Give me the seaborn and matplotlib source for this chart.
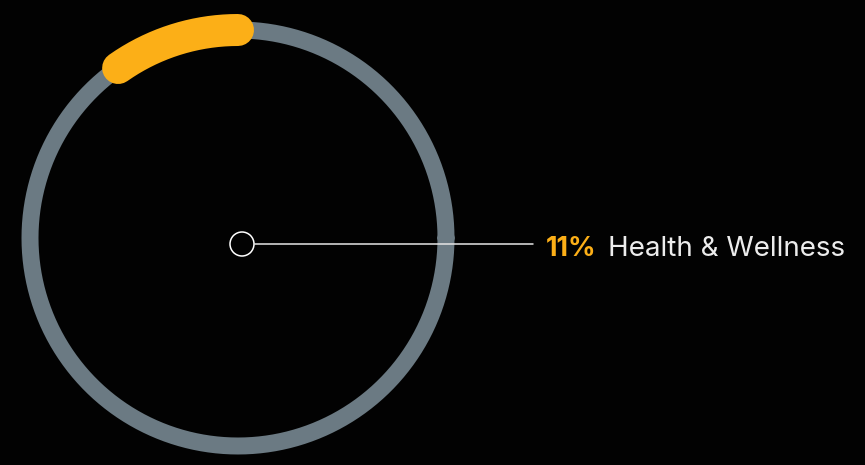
import numpy as np
import pandas as pd
import seaborn as sns
import matplotlib.pyplot as plt
from matplotlib.patches import Circle

# Data
categories = ["Health & Wellness"]
shares = [11]            # percent of the whole
share_labels = ["11%"]

BG = "#020202"
TRACK = "#6b7a83"
ACCENT = "#fcaf17"
TEXT = "#ececec"

sns.set_theme(style="dark", rc={"axes.facecolor": BG, "figure.facecolor": BG})
plt.rcParams["font.family"] = ["Inter", "DejaVu Sans"]

fig = plt.figure(figsize=(8.65, 4.65), dpi=100, facecolor=BG)
ax = fig.add_axes([0, 0, 1, 1])
ax.set_facecolor(BG)
ax.set_xlim(0, 865)
ax.set_ylim(465, 0)
ax.set_aspect("equal")
ax.axis("off")

# Ring geometry (pixel-like data units)
cx, cy, R = 238, 238, 208
track_w_px, arc_w_px = 17, 32
px = 72 / fig.dpi

# Full background track
t = np.linspace(0, 2 * np.pi, 721)
ring = pd.DataFrame({"x": cx + R * np.cos(t), "y": cy - R * np.sin(t)})
sns.lineplot(data=ring, x="x", y="y", sort=False, estimator=None,
             color=TRACK, linewidth=track_w_px * px, ax=ax)

# Highlighted share, starting at 12 o'clock, running counter-clockwise;
# the round cap's extent is taken out of the sweep
cap_deg = np.degrees((arc_w_px / 2) / R)
sweep = shares[0] / 100 * 360 - cap_deg
a = np.radians(np.linspace(90, 90 + sweep, 200))
arc = pd.DataFrame({"x": cx + R * np.cos(a), "y": cy - R * np.sin(a)})
sns.lineplot(data=arc, x="x", y="y", sort=False, estimator=None,
             color=ACCENT, linewidth=arc_w_px * px, ax=ax)
ax.lines[-1].set_solid_capstyle("round")

# Center marker and leader line
mx, my = 242, 244
ax.add_patch(Circle((mx, my), 12, facecolor=BG, edgecolor="white", linewidth=1.1, zorder=5))
ax.plot([mx + 12.5, 533], [my, my], color="#e6e6e6", linewidth=1.1, zorder=4)

# Label
ax.text(546, 255.5, share_labels[0], color=ACCENT, fontsize=19.5, fontweight="bold",
        ha="left", va="baseline")
ax.text(608, 255.5, categories[0], color=TEXT, fontsize=20, fontweight="normal",
        ha="left", va="baseline")

fig.savefig("out.png", dpi=100, facecolor=BG)
